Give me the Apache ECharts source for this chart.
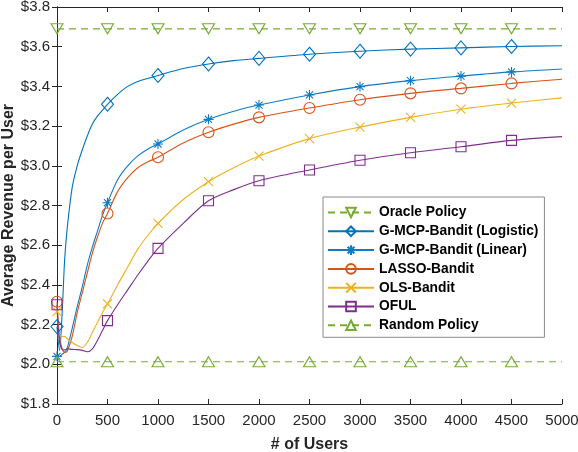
<!DOCTYPE html>
<html>
<head>
<meta charset="utf-8">
<script src="https://cdn.jsdelivr.net/npm/echarts@6/dist/echarts.min.js"></script>
<style>html,body{margin:0;padding:0;background:#fff;}#c{width:578px;height:452px;}</style>
</head>
<body>
<div id="c"></div>
<script>
const users = [0,25,50,75,100,150,200,250,300,350,400,450,500,600,700,800,900,1000,1250,1500,1750,2000,2500,3000,3500,4000,4500,5000];
const logistic = [2.19,2.07,2.25,2.52,2.68,2.89,3.00,3.08,3.15,3.21,3.25,3.28,3.31,3.36,3.40,3.425,3.44,3.455,3.49,3.513,3.53,3.541,3.562,3.577,3.588,3.594,3.601,3.605];
const linear = [2.04,2.04,2.05,2.06,2.08,2.18,2.29,2.39,2.50,2.59,2.67,2.75,2.814,2.93,3.00,3.05,3.085,3.11,3.18,3.234,3.275,3.306,3.357,3.399,3.429,3.452,3.473,3.488];
const lasso = [2.315,2.14,2.08,2.06,2.065,2.14,2.26,2.36,2.46,2.56,2.64,2.71,2.76,2.87,2.94,2.99,3.02,3.043,3.115,3.169,3.21,3.244,3.291,3.333,3.365,3.39,3.415,3.436];
const ols = [2.265,2.15,2.14,2.14,2.13,2.11,2.095,2.085,2.11,2.16,2.21,2.26,2.304,2.40,2.49,2.58,2.65,2.71,2.83,2.92,2.99,3.049,3.137,3.195,3.244,3.285,3.316,3.342];
const oful = [2.30,2.11,2.075,2.072,2.078,2.075,2.074,2.07,2.063,2.078,2.12,2.17,2.22,2.30,2.375,2.45,2.52,2.584,2.71,2.824,2.88,2.925,2.979,3.028,3.066,3.096,3.128,3.147];
const refUsers = [0,500,1000,1500,2000,2500,3000,3500,4000,4500,5000];
const oracle = [3.69,3.69,3.69,3.69,3.69,3.69,3.69,3.69,3.69,3.69,3.69];
const random = [2.013,2.013,2.013,2.013,2.013,2.013,2.013,2.013,2.013,2.013,2.013];
const markerUsers = [0,500,1000,1500,2000,2500,3000,3500,4000,4500];
const names = ['Oracle Policy','G-MCP-Bandit (Logistic)','G-MCP-Bandit (Linear)','LASSO-Bandit','OLS-Bandit','OFUL','Random Policy'];

const FONT = 'Liberation Sans, Arial, Helvetica, sans-serif';
const ASTER = 'path://M5,0L5,10M0,5L10,5M1.46,1.46L8.54,8.54M8.54,1.46L1.46,8.54';
const XMARK = 'path://M0,0L10,10M10,0L0,10';

function mk(xs, ys){
  return xs.map((u,i)=>{
    const d = {value:[u, ys[i]]};
    if (markerUsers.indexOf(u) < 0) d.symbol = 'none';
    return d;
  });
}
function ser(name, xs, ys, color, symbol, size, opts){
  opts = opts || {};
  return {
    name: name, type: 'line', data: mk(xs, ys),
    smooth: opts.smooth !== undefined ? opts.smooth : 0.3,
    symbol: symbol, symbolSize: size, showSymbol: true, showAllSymbol: true, clip: false,
    symbolRotate: opts.rotate || 0,
    color: color,
    lineStyle: {color: color, width: 1.1, type: opts.dash ? [7,5] : 'solid'},
    itemStyle: {color: 'rgba(255,255,255,0)', borderColor: color, borderWidth: 1.1},
    emphasis: {disabled: true},
    animation: false
  };
}

const chart = echarts.init(document.getElementById('c'), null, {renderer: 'canvas'});
const axisCol = '#262626';
chart.setOption({
  animation: false,
  grid: {left: 57, right: 16, top: 7, bottom: 48, containLabel: false, outerBoundsMode: 'none'},
  legend: {
    orient: 'vertical', left: 323, top: 197,
    itemWidth: 46, itemHeight: 12, itemGap: 4.8,
    padding: [8.5, 6, 5, 4],
    backgroundColor: '#fff', borderColor: '#8a8a8a', borderWidth: 1,
    textStyle: {fontFamily: FONT, fontSize: 13.8, fontWeight: 'bold', color: '#000'},
    data: names, selectedMode: false
  },
  xAxis: [{
    type: 'value', min: 0, max: 5000, interval: 500,
    name: '# of Users', nameLocation: 'middle', nameGap: 33, nameMoveOverlap: false,
    nameTextStyle: {fontFamily: FONT, fontSize: 16, fontWeight: 'bold', color: axisCol},
    axisLine: {show: true, lineStyle: {color: axisCol, width: 1}},
    axisTick: {show: true, inside: true, length: 5, lineStyle: {color: axisCol}},
    axisLabel: {fontFamily: FONT, fontSize: 15, color: axisCol, margin: 9, formatter: v => String(v)},
    splitLine: {show: false}
  }, {
    type: 'value', min: 0, max: 5000, interval: 500, position: 'top',
    axisLine: {show: true, lineStyle: {color: axisCol, width: 1}},
    axisTick: {show: true, inside: true, length: 5, lineStyle: {color: axisCol}},
    axisLabel: {show: false}, splitLine: {show: false}
  }],
  yAxis: [{
    type: 'value', min: 1.8, max: 3.8, interval: 0.2,
    name: 'Average Revenue per User', nameLocation: 'middle', nameGap: 40, nameMoveOverlap: false,
    nameTextStyle: {fontFamily: FONT, fontSize: 16, fontWeight: 'bold', color: axisCol},
    axisLine: {show: true, lineStyle: {color: axisCol, width: 1}},
    axisTick: {show: true, inside: true, length: 5, lineStyle: {color: axisCol}},
    axisLabel: {fontFamily: FONT, fontSize: 15, color: axisCol, margin: 7,
      formatter: v => '$' + v.toFixed(1)},
    splitLine: {show: false}
  }, {
    type: 'value', min: 1.8, max: 3.8, interval: 0.2, position: 'right',
    axisLine: {show: true, lineStyle: {color: axisCol, width: 1}},
    axisTick: {show: true, inside: true, length: 5, lineStyle: {color: axisCol}},
    axisLabel: {show: false}, splitLine: {show: false}
  }],
  series: [
    ser(names[0], refUsers, oracle, '#77AC30', 'triangle', [12,10], {dash: true, rotate: 180, smooth: false}),
    ser(names[1], users, logistic, '#0072BD', 'diamond', [12,14]),
    ser(names[2], users, linear, '#0f7ac6', ASTER, 10),
    ser(names[3], users, lasso, '#D95319', 'circle', 11),
    ser(names[4], users, ols, '#EDB120', XMARK, 9),
    ser(names[5], users, oful, '#7E2F8E', 'rect', 10),
    ser(names[6], refUsers, random, '#77AC30', 'triangle', [12,10], {dash: true, smooth: false})
  ]
});
</script>
</body>
</html>
